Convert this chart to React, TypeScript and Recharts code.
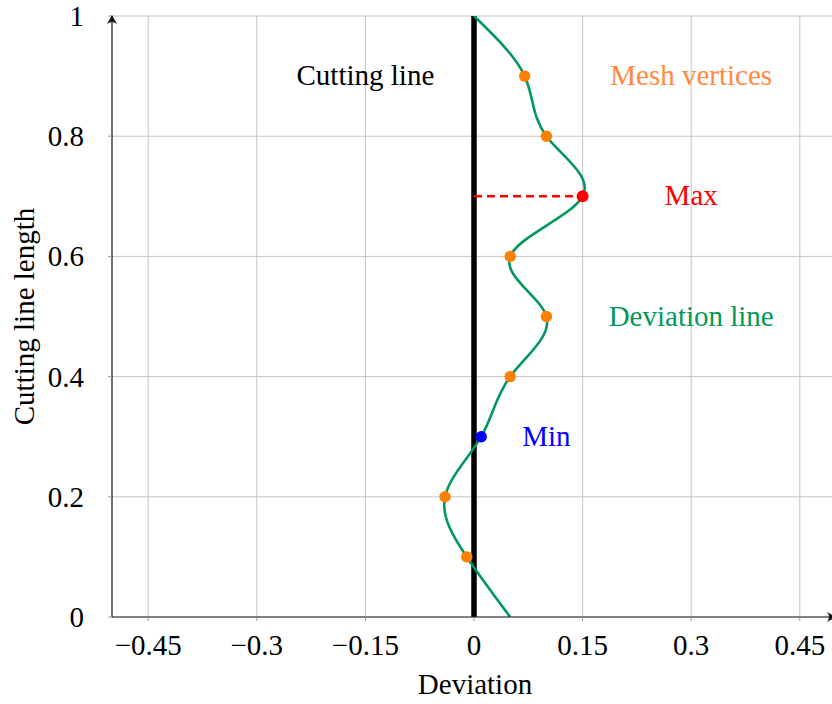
import React from 'react';
import { LineChart, Line, XAxis, YAxis, CartesianGrid, ReferenceLine, ReferenceDot } from 'recharts';

const lengths = [0, 0.1, 0.2, 0.3, 0.4, 0.5, 0.6, 0.7, 0.8, 0.9, 1];
const deviations = [0.05, -0.01, -0.04, 0.01, 0.05, 0.1, 0.05, 0.15, 0.1, 0.07, 0];
const meshVertexIdx = [1, 2, 4, 5, 6, 8, 9];
const minIdx = 3;
const maxIdx = 7;

const xTicks = [-0.45, -0.3, -0.15, 0, 0.15, 0.3, 0.45];
const xTickLabels = ['\u22120.45', '\u22120.3', '\u22120.15', '0', '0.15', '0.3', '0.45'];
const yTicks = [0, 0.2, 0.4, 0.6, 0.8, 1];
const yTickLabels = ['0', '0.2', '0.4', '0.6', '0.8', '1'];

const data = lengths.map((y, i) => ({ y, x: deviations[i] }));
const cuttingLine = [{ y: 0, x: 0 }, { y: 1, x: 0 }];

const FONT = "'Liberation Serif', 'Times New Roman', serif";
const GREEN = '#00995a';
const ORANGE = '#ff8000';
const RED = '#ff0000';
const BLUE = '#0000ff';
const GRID = '#c4c4c4';
const FS = 29;

const renderDot = (props: any) => {
  const { cx, cy, index } = props;
  let fill: string | null = null;
  if (index === minIdx) fill = BLUE;
  else if (index === maxIdx) fill = RED;
  else if (meshVertexIdx.includes(index)) fill = ORANGE;
  if (!fill) return <g key={`d${index}`} />;
  return <circle key={`d${index}`} cx={cx} cy={cy} r={index === maxIdx ? 6 : 5.7} fill={fill} stroke="none" />;
};

const XTick = (props: any) => {
  const { x, y, index } = props;
  return (
    <text x={x} y={y + 34} textAnchor="middle" fontFamily={FONT} fontSize={FS} fill="#000">
      {xTickLabels[index]}
    </text>
  );
};

const YTick = (props: any) => {
  const { x, y, index } = props;
  return (
    <text x={x} y={y + 10} textAnchor="end" fontFamily={FONT} fontSize={FS} fill="#000">
      {yTickLabels[index]}
    </text>
  );
};

const XLabel = (props: any) => {
  const vb = props.viewBox || {};
  return (
    <text x={vb.x + vb.width / 2 + 1} y={vb.y + 77} textAnchor="middle" fontFamily={FONT} fontSize={FS} fill="#000">
      Deviation
    </text>
  );
};

const YLabel = (props: any) => {
  const vb = props.viewBox || {};
  const cx = 34;
  const cy = vb.y + vb.height / 2;
  return (
    <text x={cx} y={cy} transform={`rotate(-90 ${cx} ${cy})`} textAnchor="middle" fontFamily={FONT} fontSize={FS} fill="#000">
      Cutting line length
    </text>
  );
};

const ArrowUp = (props: any) => {
  const { cx, cy } = props;
  return (
    <path d={`M ${cx} ${cy - 1} L ${cx - 5} ${cy + 8} Q ${cx} ${cy + 4} ${cx + 5} ${cy + 8} Z`} fill="#111" />
  );
};

const ArrowRight = (props: any) => {
  const { cx, cy } = props;
  return (
    <path d={`M ${cx} ${cy} L ${cx - 9} ${cy - 5} Q ${cx - 5} ${cy} ${cx - 9} ${cy + 5} Z`} fill="#111" />
  );
};

const makeText = (text: string, color: string) => (props: any) => {
  const { cx, cy } = props;
  return (
    <text x={cx} y={cy + 9} textAnchor="middle" fontFamily={FONT} fontSize={FS} fill={color}>
      {text}
    </text>
  );
};

export default function App() {
  return (
    <div style={{ position: 'absolute', left: 0, top: 0, width: 832, height: 704, overflow: 'hidden', background: '#fff' }}>
      <LineChart
        width={840}
        height={704}
        data={data}
        layout="vertical"
        margin={{ top: 16, right: 4, bottom: 0, left: 0 }}
      >
        <CartesianGrid stroke={GRID} strokeWidth={1} horizontalValues={yTicks} verticalValues={xTicks} />
        <XAxis
          type="number"
          dataKey="x"
          domain={[-0.5, 0.5]}
          ticks={xTicks}
          interval={0}
          height={87}
          tickSize={4}
          tickMargin={0}
          tickLine={{ stroke: '#999' }}
          axisLine={{ stroke: '#222', strokeWidth: 1.2 }}
          tick={<XTick />}
          label={<XLabel />}
          allowDataOverflow
        />
        <YAxis
          type="number"
          dataKey="y"
          domain={[0, 1]}
          reversed
          ticks={yTicks}
          interval={0}
          width={112}
          tickSize={4}
          tickMargin={24}
          tickLine={{ stroke: '#999' }}
          axisLine={{ stroke: '#111', strokeWidth: 1.2 }}
          tick={<YTick />}
          label={<YLabel />}
          allowDataOverflow
        />
        <Line
          data={cuttingLine}
          dataKey="x"
          type="linear"
          stroke="#000"
          strokeWidth={5.5}
          dot={false}
          activeDot={false}
          isAnimationActive={false}
        />
        <ReferenceLine
          segment={[{ x: 0, y: 0.7 }, { x: 0.15, y: 0.7 }]}
          stroke={RED}
          strokeWidth={2.5}
          strokeDasharray="8 5"
        />
        <Line
          dataKey="x"
          type="natural"
          stroke={GREEN}
          strokeWidth={2.6}
          dot={renderDot}
          activeDot={false}
          isAnimationActive={false}
        />
        <ReferenceDot x={-0.5} y={1} r={0} shape={<ArrowUp />} ifOverflow="visible" />
        <ReferenceDot x={0.5} y={0} r={0} shape={<ArrowRight />} ifOverflow="visible" />
        <ReferenceDot x={-0.15} y={0.9} r={0} shape={makeText('Cutting line', '#000')} ifOverflow="visible" />
        <ReferenceDot x={0.3} y={0.9} r={0} shape={makeText('Mesh vertices', '#ff8a3d')} ifOverflow="visible" />
        <ReferenceDot x={0.3} y={0.7} r={0} shape={makeText('Max', RED)} ifOverflow="visible" />
        <ReferenceDot x={0.3} y={0.5} r={0} shape={makeText('Deviation line', GREEN)} ifOverflow="visible" />
        <ReferenceDot x={0.1} y={0.3} r={0} shape={makeText('Min', BLUE)} ifOverflow="visible" />
      </LineChart>
    </div>
  );
}
